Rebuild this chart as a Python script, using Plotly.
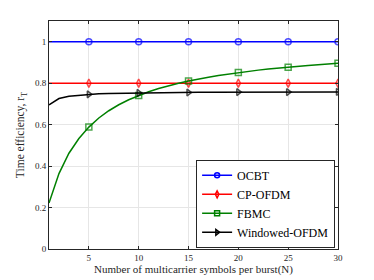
import plotly.graph_objects as go

N = list(range(1, 31))
ocbt = [1.0] * 30
cp_ofdm = [0.8] * 30
fbmc = [0.222, 0.364, 0.462, 0.533, 0.588, 0.632, 0.667, 0.696, 0.72, 0.741,
        0.759, 0.774, 0.788, 0.8, 0.811, 0.821, 0.829, 0.837, 0.844, 0.851,
        0.857, 0.863, 0.868, 0.873, 0.877, 0.881, 0.885, 0.889, 0.892, 0.896]
wofdm = [0.695, 0.726, 0.737, 0.742, 0.746, 0.749, 0.750, 0.751, 0.752, 0.753,
         0.754, 0.754, 0.755, 0.755, 0.755, 0.756, 0.756, 0.756, 0.756, 0.757,
         0.757, 0.757, 0.757, 0.757, 0.757, 0.757, 0.758, 0.758, 0.758, 0.758]
marker_at = [5, 10, 15, 20, 25, 30]
x_ticks = [5, 10, 15, 20, 25, 30]
y_ticks = [0, 0.2, 0.4, 0.6, 0.8, 1]
y_tick_labels = ["0", "0.2", "0.4", "0.6", "0.8", "1"]

sizes = [6 if n in marker_at else 0 for n in N]

series = [
    ("OCBT", ocbt, "#0000ff", "circle-open"),
    ("CP-OFDM", cp_ofdm, "#ff0000", "diamond-tall-open"),
    ("FBMC", fbmc, "#008000", "square-open"),
    ("Windowed-OFDM", wofdm, "#000000", "triangle-right-open"),
]

fig = go.Figure()
for name, vals, col, sym in series:
    fig.add_trace(go.Scatter(
        x=N, y=vals, name=name, mode="lines+markers", showlegend=False,
        legendgroup=name,
        line=dict(color=col, width=1.5),
        marker=dict(symbol=sym, size=sizes, color=col, line=dict(width=1.5, color=col)),
    ))
    # legend entry
    fig.add_trace(go.Scatter(
        x=[None], y=[None], name=name, mode="lines+markers", legendgroup=name,
        line=dict(color=col, width=1.5),
        marker=dict(symbol=sym, size=5, color=col, line=dict(width=1.5, color=col)),
    ))

font = "'Liberation Serif', 'Times New Roman', serif"
fig.update_layout(
    width=366, height=272,
    margin=dict(l=41, r=36, t=13, b=31, autoexpand=False),
    paper_bgcolor="white", plot_bgcolor="white",
    font=dict(family=font, size=9, color="#262626"),
    showlegend=True,
    legend=dict(
        x=0.99, y=0.005, xanchor="right", yanchor="bottom",
        bgcolor="white", bordercolor="#262626", borderwidth=1,
        font=dict(family=font, size=12, color="#000000"),
        tracegroupgap=0, itemwidth=30,
    ),
    xaxis=dict(
        range=[1, 30], tickvals=x_ticks, showgrid=True, gridcolor="#e6e6e6",
        showline=True, linecolor="#262626", linewidth=1, mirror="ticks",
        ticks="inside", ticklen=3, tickcolor="#262626", zeroline=False, automargin=False,
        tickfont=dict(family=font, size=9, color="#262626"),
        title=dict(text="Number of multicarrier symbols per burst(N)",
                   font=dict(family=font, size=11, color="#262626"), standoff=3),
    ),
    yaxis=dict(
        range=[0, 1.1], tickvals=y_ticks, ticktext=y_tick_labels, showgrid=True, gridcolor="#e6e6e6",
        showline=True, linecolor="#262626", linewidth=1, mirror="ticks",
        ticks="inside", ticklen=3, tickcolor="#262626", zeroline=False, automargin=False,
        tickfont=dict(family=font, size=9, color="#262626"),
        title=dict(text="Time efficiency, r<sub>T</sub>",
                   font=dict(family=font, size=11.5, color="#262626"), standoff=7),
    ),
)

fig.write_html("out.html")
